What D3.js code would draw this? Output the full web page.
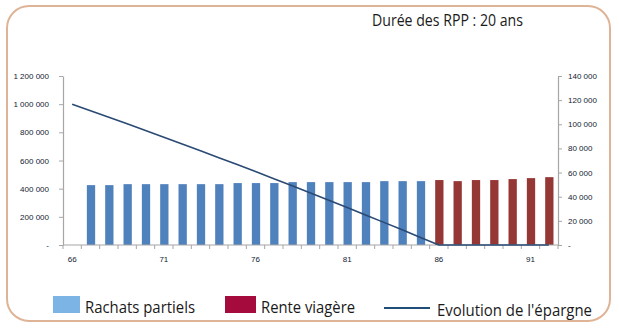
<!DOCTYPE html>
<html><head><meta charset="utf-8">
<script src="https://cdn.jsdelivr.net/npm/d3@7"></script>
<style>html,body{margin:0;padding:0;background:#fff;}svg{display:block;}</style>
</head><body>
<svg id="c" width="619" height="334"></svg>
<script>
// Data
const ages = d3.range(66, 93); // 66..92
const rachats = [null,49600,49600,50400,50400,50400,50400,50400,50400,51300,51300,51300,52100,52100,52100,52100,52100,52900,52900,52900,null,null,null,null,null,null,null];
const rente   = [null,null,null,null,null,null,null,null,null,null,null,null,null,null,null,null,null,null,null,null,53800,52900,53800,53800,54600,55400,56200];
const epargne = [1000000,954000,907600,860700,813500,765800,717700,669200,620200,570800,521100,470800,420200,369200,317700,265800,213500,160700,107600,54000,0,0,0,0,0,0,0];
const leftTicks = [0,200000,400000,600000,800000,1000000,1200000];
const rightTicks = [0,20000,40000,60000,80000,100000,120000,140000];
const xLabels = [66,71,76,81,86,91];
const title = "Durée des RPP : 20 ans";
const legend = ["Rachats partiels","Rente viagère","Evolution de l'épargne"];

const svg = d3.select("#c");
const font = "'Liberation Sans', Arial, sans-serif";

// Frame
const fx0=7, fy0=6, fx1=610, fy1=321, r=22;
svg.append("rect").attr("x",fx0).attr("y",fy0).attr("width",fx1-fx0).attr("height",fy1-fy0)
  .attr("rx",r).attr("ry",r).attr("fill","none").attr("stroke","#dfb496").attr("stroke-width",2);

const x = d3.scaleBand().domain(ages).range([63,558]).padding(0);
const yL = d3.scaleLinear().domain([0,1200000]).range([245,76]);
const yR = d3.scaleLinear().domain([0,140000]).range([245,76]);
const fmt = v => v===0 ? "-" : d3.format(",")(v).replace(/,/g," ");

// Left axis
const gL = svg.append("g").attr("transform","translate(63,0)")
  .call(d3.axisLeft(yL).tickValues(leftTicks).tickFormat(fmt).tickSize(4).tickSizeOuter(0).tickPadding(10));
// Right axis
const gR = svg.append("g").attr("transform","translate(558,0)")
  .call(d3.axisRight(yR).tickValues(rightTicks).tickFormat(fmt).tickSize(4).tickSizeOuter(0).tickPadding(6));
[gL,gR].forEach(g=>{
  g.select(".domain").attr("stroke","#a6a6a6").attr("stroke-width",1.2);
  g.selectAll(".tick line").attr("stroke","#a6a6a6");
  g.selectAll(".tick text").attr("font-family",font).attr("font-size",8).attr("fill","#111a33");
});

// Bars
const bw = 8.3;
svg.append("g").selectAll("rect").data(ages.filter((a,i)=>rachats[i]!=null)).join("rect")
  .attr("x",a=>x(a)+x.bandwidth()/2-bw/2+0.5).attr("width",bw)
  .attr("y",a=>yR(rachats[ages.indexOf(a)])).attr("height",a=>245-yR(rachats[ages.indexOf(a)]))
  .attr("fill","#4f81bd");
svg.append("g").selectAll("rect").data(ages.filter((a,i)=>rente[i]!=null)).join("rect")
  .attr("x",a=>x(a)+x.bandwidth()/2-bw/2+0.5).attr("width",bw)
  .attr("y",a=>yR(rente[ages.indexOf(a)])).attr("height",a=>245-yR(rente[ages.indexOf(a)]))
  .attr("fill","#953735");

// X axis
const gX = svg.append("g").attr("transform","translate(0,245)");
gX.append("line").attr("x1",63).attr("x2",558).attr("stroke","#a6a6a6").attr("stroke-width",1.2);
gX.selectAll(".tk").data(ages.concat([93])).join("line")
  .attr("x1",a=>a===93?558:x(a)).attr("x2",a=>a===93?558:x(a)).attr("y1",0).attr("y2",4).attr("stroke","#a6a6a6");
gX.selectAll(".lb").data(xLabels).join("text")
  .attr("x",a=>x(a)+x.bandwidth()/2).attr("y",17).attr("text-anchor","middle")
  .attr("font-family",font).attr("font-size",8).attr("fill","#111a33").text(a=>a);

// Line
const line = d3.line().x((d,i)=>x(ages[i])+x.bandwidth()/2).y(d=>yL(d));
svg.append("path").datum(epargne).attr("d",line).attr("fill","none")
  .attr("stroke","#2a4a74").attr("stroke-width",1.6);

// Title
svg.append("text").attr("x",372).attr("y",26).attr("font-family","'Open Sans', sans-serif")
  .attr("font-size",15.5).attr("fill","#1a1a1a").attr("textLength",151).attr("lengthAdjust","spacingAndGlyphs").text(title);

// Legend
const lg = svg.append("g");
lg.append("rect").attr("x",53).attr("y",296).attr("width",27).attr("height",17).attr("fill","#7cb4e6");
lg.append("text").attr("x",85).attr("y",313).attr("font-family","'Open Sans', sans-serif").attr("font-size",16.5)
  .attr("fill","#1a1a1a").attr("textLength",110).attr("lengthAdjust","spacingAndGlyphs").text(legend[0]);
lg.append("rect").attr("x",225).attr("y",296).attr("width",31).attr("height",17).attr("fill","#a60b3e");
lg.append("text").attr("x",261).attr("y",313).attr("font-family","'Open Sans', sans-serif").attr("font-size",16.5)
  .attr("fill","#1a1a1a").attr("textLength",94).attr("lengthAdjust","spacingAndGlyphs").text(legend[1]);
lg.append("line").attr("x1",384).attr("x2",430).attr("y1",308).attr("y2",308).attr("stroke","#1f4e79").attr("stroke-width",2);
lg.append("text").attr("x",437).attr("y",316).attr("font-family","'Open Sans', sans-serif").attr("font-size",16.5)
  .attr("fill","#1a1a1a").attr("textLength",155).attr("lengthAdjust","spacingAndGlyphs").text(legend[2]);
</script>
</body></html>
